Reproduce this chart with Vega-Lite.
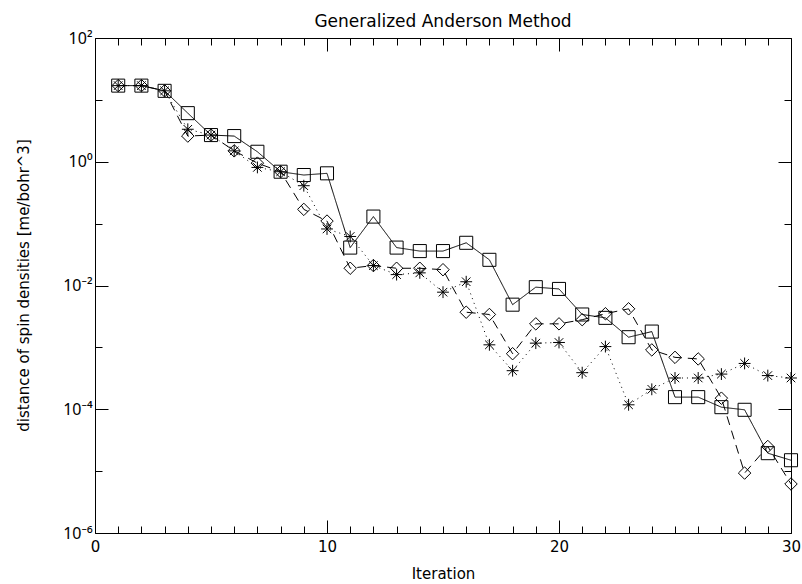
{
  "$schema": "https://vega.github.io/schema/vega-lite/v6.json",
  "width": 696,
  "height": 495,
  "autosize": {"type": "none"},
  "padding": {"left": 95, "top": 38, "right": 11, "bottom": 51},
  "background": "white",
  "config": {
    "view": {"stroke": null},
    "font": "DejaVu Sans",
    "axis": {"grid": false, "domainColor": "black", "domainWidth": 1, "tickColor": "black", "tickWidth": 1, "labelColor": "black", "titleColor": "black", "labelFont": "DejaVu Sans", "titleFont": "DejaVu Sans", "labelFontSize": 15, "titleFontSize": 15, "titleFontWeight": "normal", "labelOverlap": false, "labelFlush": false, "labelBound": false}
  },
  "title": {"text": "Generalized Anderson Method", "fontSize": 17, "fontWeight": "normal", "font": "DejaVu Sans", "color": "black", "offset": -1, "frame": "group"},
  "data": {"values": [
    {"it": 1, "s": "S", "v": 17}, {"it": 2, "s": "S", "v": 17}, {"it": 3, "s": "S", "v": 14}, {"it": 4, "s": "S", "v": 6.1}, {"it": 5, "s": "S", "v": 2.7}, {"it": 6, "s": "S", "v": 2.6}, {"it": 7, "s": "S", "v": 1.45}, {"it": 8, "s": "S", "v": 0.69}, {"it": 9, "s": "S", "v": 0.61}, {"it": 10, "s": "S", "v": 0.65},
    {"it": 11, "s": "S", "v": 0.041}, {"it": 12, "s": "S", "v": 0.13}, {"it": 13, "s": "S", "v": 0.041}, {"it": 14, "s": "S", "v": 0.036}, {"it": 15, "s": "S", "v": 0.036}, {"it": 16, "s": "S", "v": 0.049}, {"it": 17, "s": "S", "v": 0.026}, {"it": 18, "s": "S", "v": 0.0049}, {"it": 19, "s": "S", "v": 0.0094}, {"it": 20, "s": "S", "v": 0.0088},
    {"it": 21, "s": "S", "v": 0.0034}, {"it": 22, "s": "S", "v": 0.0030}, {"it": 23, "s": "S", "v": 0.00146}, {"it": 24, "s": "S", "v": 0.0018}, {"it": 25, "s": "S", "v": 0.000157}, {"it": 26, "s": "S", "v": 0.000157}, {"it": 27, "s": "S", "v": 0.000108}, {"it": 28, "s": "S", "v": 0.000098}, {"it": 29, "s": "S", "v": 0.0000195}, {"it": 30, "s": "S", "v": 0.000015},
    {"it": 1, "s": "D", "v": 17}, {"it": 2, "s": "D", "v": 17}, {"it": 3, "s": "D", "v": 14}, {"it": 4, "s": "D", "v": 2.6}, {"it": 5, "s": "D", "v": 2.7}, {"it": 6, "s": "D", "v": 1.5}, {"it": 7, "s": "D", "v": 0.95}, {"it": 8, "s": "D", "v": 0.69}, {"it": 9, "s": "D", "v": 0.17}, {"it": 10, "s": "D", "v": 0.11},
    {"it": 11, "s": "D", "v": 0.019}, {"it": 12, "s": "D", "v": 0.021}, {"it": 13, "s": "D", "v": 0.019}, {"it": 14, "s": "D", "v": 0.019}, {"it": 15, "s": "D", "v": 0.018}, {"it": 16, "s": "D", "v": 0.0037}, {"it": 17, "s": "D", "v": 0.0034}, {"it": 18, "s": "D", "v": 0.00079}, {"it": 19, "s": "D", "v": 0.0024}, {"it": 20, "s": "D", "v": 0.0024},
    {"it": 21, "s": "D", "v": 0.0028}, {"it": 22, "s": "D", "v": 0.0035}, {"it": 23, "s": "D", "v": 0.0042}, {"it": 24, "s": "D", "v": 0.00091}, {"it": 25, "s": "D", "v": 0.00069}, {"it": 26, "s": "D", "v": 0.00065}, {"it": 27, "s": "D", "v": 0.000151}, {"it": 28, "s": "D", "v": 0.0000093}, {"it": 29, "s": "D", "v": 0.000025}, {"it": 30, "s": "D", "v": 0.0000062},
    {"it": 1, "s": "A", "v": 17}, {"it": 2, "s": "A", "v": 17}, {"it": 3, "s": "A", "v": 14}, {"it": 4, "s": "A", "v": 3.35}, {"it": 5, "s": "A", "v": 2.7}, {"it": 6, "s": "A", "v": 1.5}, {"it": 7, "s": "A", "v": 0.81}, {"it": 8, "s": "A", "v": 0.69}, {"it": 9, "s": "A", "v": 0.41}, {"it": 10, "s": "A", "v": 0.082},
    {"it": 11, "s": "A", "v": 0.062}, {"it": 12, "s": "A", "v": 0.021}, {"it": 13, "s": "A", "v": 0.015}, {"it": 14, "s": "A", "v": 0.016}, {"it": 15, "s": "A", "v": 0.0078}, {"it": 16, "s": "A", "v": 0.0115}, {"it": 17, "s": "A", "v": 0.0011}, {"it": 18, "s": "A", "v": 0.00042}, {"it": 19, "s": "A", "v": 0.00117}, {"it": 20, "s": "A", "v": 0.0012},
    {"it": 21, "s": "A", "v": 0.00039}, {"it": 22, "s": "A", "v": 0.00103}, {"it": 23, "s": "A", "v": 0.000118}, {"it": 24, "s": "A", "v": 0.00021}, {"it": 25, "s": "A", "v": 0.00032}, {"it": 26, "s": "A", "v": 0.00032}, {"it": 27, "s": "A", "v": 0.00037}, {"it": 28, "s": "A", "v": 0.00055}, {"it": 29, "s": "A", "v": 0.00035}, {"it": 30, "s": "A", "v": 0.00032}
  ]},
  "layer": [
    {
      "mark": {"type": "line", "color": "black", "strokeWidth": 1},
      "encoding": {
        "x": {"field": "it", "type": "quantitative", "scale": {"domain": [0, 30], "nice": false, "zero": false},
          "axis": {"orient": "bottom", "values": [0,1,2,3,4,5,6,7,8,9,10,11,12,13,14,15,16,17,18,19,20,21,22,23,24,25,26,27,28,29,30],
            "labelExpr": "datum.value % 10 == 0 ? datum.label : ''",
            "tickSize": {"condition": {"test": "datum.value % 10 == 0", "value": -13}, "value": -7},
            "labelPadding": 19, "title": "Iteration", "titlePadding": 6}},
        "y": {"field": "v", "type": "quantitative", "scale": {"type": "log", "domain": [0.000001, 100], "nice": false},
          "axis": {"orient": "left", "values": [0.000001, 0.00001, 0.0001, 0.001, 0.01, 0.1, 1, 10, 100],
            "labelExpr": "round(log(datum.value)/LN10) == 2 ? '10²' : round(log(datum.value)/LN10) == 0 ? '10⁰' : round(log(datum.value)/LN10) == -2 ? '10⁻²' : round(log(datum.value)/LN10) == -4 ? '10⁻⁴' : round(log(datum.value)/LN10) == -6 ? '10⁻⁶' : ''",
            "tickSize": {"condition": {"test": "abs(round(log(datum.value)/LN10)) % 2 == 0", "value": -13}, "value": -7},
            "labelPadding": 16, "labelFont": "Noto Sans", "labelFontSize": 16,
            "title": "distance of spin densities [me/bohr^3]", "titleX": -72, "titleY": 247, "titleAngle": -90, "titleAlign": "center", "titleBaseline": "middle"}},
        "strokeDash": {"field": "s", "type": "nominal", "scale": {"domain": ["S", "D", "A"], "range": [[1, 0], [9, 6], [1, 4]]}, "legend": null},
        "detail": {"field": "s"},
        "order": {"field": "it", "type": "quantitative"}
      }
    },
    {
      "mark": {"type": "point", "filled": false, "color": "black", "strokeWidth": 1, "size": 160, "opacity": 1},
      "encoding": {
        "x": {"field": "it", "type": "quantitative",
          "axis": {"orient": "top", "values": [0,1,2,3,4,5,6,7,8,9,10,11,12,13,14,15,16,17,18,19,20,21,22,23,24,25,26,27,28,29,30],
            "labels": false, "title": null,
            "tickSize": {"condition": {"test": "datum.value % 10 == 0", "value": -13}, "value": -7}}},
        "y": {"field": "v", "type": "quantitative",
          "axis": {"orient": "right", "values": [0.000001, 0.00001, 0.0001, 0.001, 0.01, 0.1, 1, 10, 100],
            "labels": false, "title": null,
            "tickSize": {"condition": {"test": "abs(round(log(datum.value)/LN10)) % 2 == 0", "value": -13}, "value": -7}}},
        "shape": {"field": "s", "type": "nominal", "scale": {"domain": ["S", "D", "A"], "range": ["square", "diamond", "M0,-1L0,1M-1,0L1,0M-0.72,-0.72L0.72,0.72M-0.72,0.72L0.72,-0.72"]}, "legend": null},
        "size": {"field": "s", "type": "nominal", "scale": {"domain": ["S", "D", "A"], "range": [170, 140, 170]}, "legend": null},
        "strokeWidth": {"field": "s", "type": "nominal", "scale": {"domain": ["S", "D", "A"], "range": [1, 1, 1.7]}, "legend": null}
      }
    }
  ],
  "resolve": {"axis": {"x": "independent", "y": "independent"}}
}
